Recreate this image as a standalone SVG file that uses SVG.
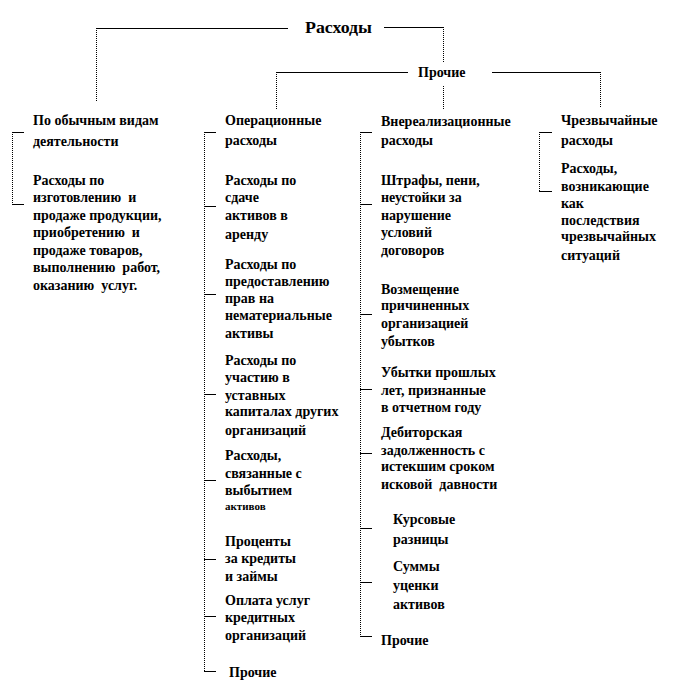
<svg xmlns="http://www.w3.org/2000/svg" width="684" height="696" viewBox="0 0 684 696">
<rect width="684" height="696" fill="#fff"/>
<g id="connectors" stroke="#000" stroke-width="1" fill="none">
<path d="M96 28.5H288M384 27.5H443M276 72.5H408M492 72.5H600"/>
<path stroke-dasharray="1 1" d="M96.5 28V101M443.5 27V62M276.5 72V109M443.5 86V110M600.5 72V108"/>
<path stroke-dasharray="1 1" d="M12.5 132V205"/>
<path d="M12 132.5H24M12 204.5H24"/>
<path stroke-dasharray="1 1" d="M204.5 132V672"/>
<path d="M204 132.5H216M204 206.5H216M204 294.5H216M204 394.5H216M204 480.5H216M204 559.5H216M204 616.5H216M204 671.5H216"/>
<path stroke-dasharray="1 1" d="M360.5 132V637"/>
<path d="M360 132.5H372M360 204.5H372M360 314.5H372M360 389.5H372M360 453.5H372M360 528.5H372M360 582.5H372M360 636.5H372"/>
<path stroke-dasharray="1 1" d="M539.5 132V192"/>
<path d="M539 132.5H552M539 191.5H552"/>
</g>
<g id="root"><text x="305" y="33" font-family="Liberation Serif" font-weight="bold" font-size="16" textLength="67" lengthAdjust="spacingAndGlyphs">Расходы</text></g>
<g id="other"><text x="418" y="77" font-family="Liberation Serif" font-weight="bold" font-size="14">Прочие</text></g>
<g id="col1">
<text x="33" y="125" font-family="Liberation Serif" font-weight="bold" font-size="14">По обычным видам</text>
<text x="33" y="146" font-family="Liberation Serif" font-weight="bold" font-size="14">деятельности</text>
<text x="33" y="184.5" font-family="Liberation Serif" font-weight="bold" font-size="14">Расходы по</text>
<text x="33" y="202" font-family="Liberation Serif" font-weight="bold" font-size="14" xml:space="preserve">изготовлению  и</text>
<text x="33" y="219.5" font-family="Liberation Serif" font-weight="bold" font-size="14">продаже продукции,</text>
<text x="33" y="237" font-family="Liberation Serif" font-weight="bold" font-size="14" xml:space="preserve">приобретению  и</text>
<text x="33" y="254.5" font-family="Liberation Serif" font-weight="bold" font-size="14">продаже товаров,</text>
<text x="33" y="272" font-family="Liberation Serif" font-weight="bold" font-size="14" xml:space="preserve">выполнению  работ,</text>
<text x="33" y="289.5" font-family="Liberation Serif" font-weight="bold" font-size="14" xml:space="preserve">оказанию  услуг.</text>
</g>
<g id="col2">
<text x="225" y="125" font-family="Liberation Serif" font-weight="bold" font-size="14">Операционные</text>
<text x="225" y="144.5" font-family="Liberation Serif" font-weight="bold" font-size="14">расходы</text>
<text x="225" y="184.5" font-family="Liberation Serif" font-weight="bold" font-size="14">Расходы по</text>
<text x="225" y="202" font-family="Liberation Serif" font-weight="bold" font-size="14">сдаче</text>
<text x="225" y="219.5" font-family="Liberation Serif" font-weight="bold" font-size="14">активов в</text>
<text x="225" y="238.5" font-family="Liberation Serif" font-weight="bold" font-size="14">аренду</text>
<text x="225" y="268.5" font-family="Liberation Serif" font-weight="bold" font-size="14">Расходы по</text>
<text x="225" y="286" font-family="Liberation Serif" font-weight="bold" font-size="14">предоставлению</text>
<text x="225" y="303" font-family="Liberation Serif" font-weight="bold" font-size="14">прав на</text>
<text x="225" y="319.5" font-family="Liberation Serif" font-weight="bold" font-size="14">нематериальные</text>
<text x="225" y="338" font-family="Liberation Serif" font-weight="bold" font-size="14">активы</text>
<text x="225" y="364.5" font-family="Liberation Serif" font-weight="bold" font-size="14">Расходы по</text>
<text x="225" y="382" font-family="Liberation Serif" font-weight="bold" font-size="14">участию в</text>
<text x="225" y="399.5" font-family="Liberation Serif" font-weight="bold" font-size="14">уставных</text>
<text x="225" y="416" font-family="Liberation Serif" font-weight="bold" font-size="14">капиталах других</text>
<text x="225" y="434.5" font-family="Liberation Serif" font-weight="bold" font-size="14">организаций</text>
<text x="225" y="460" font-family="Liberation Serif" font-weight="bold" font-size="14">Расходы,</text>
<text x="225" y="478" font-family="Liberation Serif" font-weight="bold" font-size="14">связанные с</text>
<text x="225" y="494.5" font-family="Liberation Serif" font-weight="bold" font-size="14">выбытием</text>
<text x="225" y="510" font-family="Liberation Serif" font-weight="bold" font-size="11">активов</text>
<text x="225" y="545.5" font-family="Liberation Serif" font-weight="bold" font-size="14">Проценты</text>
<text x="225" y="563" font-family="Liberation Serif" font-weight="bold" font-size="14">за кредиты</text>
<text x="225" y="581" font-family="Liberation Serif" font-weight="bold" font-size="14">и займы</text>
<text x="225" y="605" font-family="Liberation Serif" font-weight="bold" font-size="14">Оплата услуг</text>
<text x="225" y="622" font-family="Liberation Serif" font-weight="bold" font-size="14">кредитных</text>
<text x="225" y="639.5" font-family="Liberation Serif" font-weight="bold" font-size="14">организаций</text>
<text x="229" y="677" font-family="Liberation Serif" font-weight="bold" font-size="14">Прочие</text>
</g>
<g id="col3">
<text x="381" y="126" font-family="Liberation Serif" font-weight="bold" font-size="14">Внереализационные</text>
<text x="381" y="145" font-family="Liberation Serif" font-weight="bold" font-size="14">расходы</text>
<text x="381" y="185" font-family="Liberation Serif" font-weight="bold" font-size="14">Штрафы, пени,</text>
<text x="381" y="202" font-family="Liberation Serif" font-weight="bold" font-size="14">неустойки за</text>
<text x="381" y="219.5" font-family="Liberation Serif" font-weight="bold" font-size="14">нарушение</text>
<text x="381" y="237" font-family="Liberation Serif" font-weight="bold" font-size="14">условий</text>
<text x="381" y="254.5" font-family="Liberation Serif" font-weight="bold" font-size="14">договоров</text>
<text x="381" y="294" font-family="Liberation Serif" font-weight="bold" font-size="14">Возмещение</text>
<text x="381" y="310" font-family="Liberation Serif" font-weight="bold" font-size="14">причиненных</text>
<text x="381" y="328" font-family="Liberation Serif" font-weight="bold" font-size="14">организацией</text>
<text x="381" y="346" font-family="Liberation Serif" font-weight="bold" font-size="14">убытков</text>
<text x="381" y="377" font-family="Liberation Serif" font-weight="bold" font-size="14">Убытки прошлых</text>
<text x="381" y="394.5" font-family="Liberation Serif" font-weight="bold" font-size="14">лет, признанные</text>
<text x="381" y="412" font-family="Liberation Serif" font-weight="bold" font-size="14">в отчетном году</text>
<text x="381" y="437" font-family="Liberation Serif" font-weight="bold" font-size="14">Дебиторская</text>
<text x="381" y="454.5" font-family="Liberation Serif" font-weight="bold" font-size="14">задолженность с</text>
<text x="381" y="471" font-family="Liberation Serif" font-weight="bold" font-size="14">истекшим сроком</text>
<text x="381" y="489" font-family="Liberation Serif" font-weight="bold" font-size="14" xml:space="preserve">исковой  давности</text>
<text x="393" y="523.5" font-family="Liberation Serif" font-weight="bold" font-size="14">Курсовые</text>
<text x="393" y="544" font-family="Liberation Serif" font-weight="bold" font-size="14">разницы</text>
<text x="393" y="571" font-family="Liberation Serif" font-weight="bold" font-size="14">Суммы</text>
<text x="393" y="589.5" font-family="Liberation Serif" font-weight="bold" font-size="14">уценки</text>
<text x="393" y="608.5" font-family="Liberation Serif" font-weight="bold" font-size="14">активов</text>
<text x="381" y="645" font-family="Liberation Serif" font-weight="bold" font-size="14">Прочие</text>
</g>
<g id="col4">
<text x="561" y="125" font-family="Liberation Serif" font-weight="bold" font-size="14">Чрезвычайные</text>
<text x="561" y="144.5" font-family="Liberation Serif" font-weight="bold" font-size="14">расходы</text>
<text x="561" y="173" font-family="Liberation Serif" font-weight="bold" font-size="14">Расходы,</text>
<text x="561" y="190.5" font-family="Liberation Serif" font-weight="bold" font-size="14">возникающие</text>
<text x="561" y="208" font-family="Liberation Serif" font-weight="bold" font-size="14">как</text>
<text x="561" y="224.5" font-family="Liberation Serif" font-weight="bold" font-size="14">последствия</text>
<text x="561" y="241" font-family="Liberation Serif" font-weight="bold" font-size="14">чрезвычайных</text>
<text x="561" y="259.5" font-family="Liberation Serif" font-weight="bold" font-size="14">ситуаций</text>
</g>
</svg>
